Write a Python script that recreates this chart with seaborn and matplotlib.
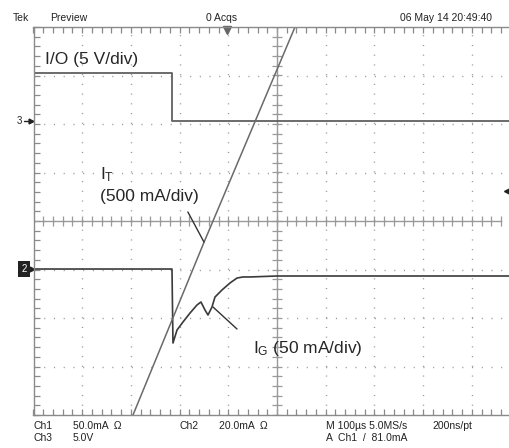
import numpy as np
import pandas as pd
import matplotlib
matplotlib.use("Agg")
import matplotlib.pyplot as plt
import seaborn as sns

# screen data: time in microseconds (100 us/div, 0 = screen centre)
t_io = [-500, -216, -216, 478]
v_io = [5, 5, 0, 0]                 # V, 5 V/div, ground marker "3"

t_ig = [-500, -215.6, -213.6, -205.3, -193.0, -178.6, -164.3, -156.1, -147.8,
        -141.7, -133.5, -127.3, -112.9, -96.5, -82.1, -69.8, -55.4, 0, 478]
i_ig = [0, 0, -76.3, -62.9, -54.6, -45.4, -37.1, -34.0, -42.3,
        -47.4, -39.2, -28.9, -21.6, -14.4, -9.3, -8.2, -8.2, -7.2, -7.2]   # mA, 50 mA/div

t_it = [-295.7, -149.9, 37, 45]
i_it = [-1.5, 0.28, 2.5, 2.6]       # A, 500 mA/div

T_DIV = 100.0
IO_DIV, IO_GND = 5.0, 2.06
IG_DIV, IG_GND = 50.0, -0.99
IT_DIV, IT_GND = 0.5, -1.0

sns.set_style("white")
plt.rcParams["font.family"] = ["Liberation Sans", "DejaVu Sans"]
plt.rcParams["mathtext.fontset"] = "custom"
plt.rcParams["mathtext.rm"] = "Liberation Sans"
plt.rcParams["mathtext.it"] = "Liberation Sans"

fig = plt.figure(figsize=(5.1, 4.48), dpi=100)
ax = fig.add_axes([33.5 / 510, 33 / 448, 1 - 33.5 / 510, 388 / 448])

io = pd.DataFrame({"x": np.array(t_io) / T_DIV, "y": np.array(v_io) / IO_DIV + IO_GND})
ig = pd.DataFrame({"x": np.array(t_ig) / T_DIV, "y": np.array(i_ig) / IG_DIV + IG_GND})
it = pd.DataFrame({"x": np.array(t_it) / T_DIV, "y": np.array(i_it) / IT_DIV + IT_GND})

# graticule
ax.set_xlim(-5, 4.785)
ax.set_ylim(-4, 4)
ax.set_xticks(np.arange(-5, 5, 1))
ax.set_yticks(np.arange(-4, 5, 1))
ax.set_xticks(np.arange(-5, 4.8, 0.2), minor=True)
ax.set_yticks(np.arange(-4, 4.01, 0.2), minor=True)
ax.tick_params(which="both", direction="in", length=4, width=0.9, color="#8a8a8a",
               top=True, bottom=True, left=True, right=False,
               labelbottom=False, labelleft=False)
ax.grid(which="major", linestyle=(0, (0.8, 6.2)), color="#9a9a9a", linewidth=1.0)
for side in ["left", "top", "bottom"]:
    ax.spines[side].set_color("#8a8a8a")
    ax.spines[side].set_linewidth(1.0)
ax.spines["right"].set_visible(False)

xs = np.arange(-5, 4.8, 0.2)
ys = np.arange(-4, 4.01, 0.2)
ax.plot(xs, np.zeros_like(xs), color="#9a9a9a", lw=1.0, marker="|", ms=7, mew=0.9, zorder=1)
ax.plot(np.zeros_like(ys), ys, color="#9a9a9a", lw=1.0, marker="_", ms=7, mew=0.9, zorder=1)

# traces
sns.lineplot(data=io, x="x", y="y", sort=False, estimator=None, color="#606060", lw=1.3, ax=ax)
sns.lineplot(data=ig, x="x", y="y", sort=False, estimator=None, color="#3a3a3a", lw=1.2, ax=ax)
sns.lineplot(data=it, x="x", y="y", sort=False, estimator=None, color="#6a6a6a", lw=1.1, ax=ax)
ax.set_xlabel("")
ax.set_ylabel("")

# annotations
ax.text(-4.76, 3.34, "I/O (5 V/div)", fontsize=12.5, va="center", ha="left")
ax.text(-3.63, 0.95, r"I$_\mathrm{T}$", fontsize=12.5, va="center", ha="left")
ax.text(-3.63, 0.515, "(500 mA/div)", fontsize=12.5, va="center", ha="left")
ax.text(-0.49, -2.62, r"I$_\mathrm{G}$ (50 mA/div)", fontsize=12.5, va="center", ha="left")
ax.plot([-1.83, -1.50], [0.186, -0.433], color="#333333", lw=1.0)
ax.plot([-1.314, -0.821], [-1.773, -2.227], color="#333333", lw=1.0)

# scope markers
ax.text(-5.29, IO_GND, "3", fontsize=7, va="center", ha="center", clip_on=False)
ax.plot([-5.19, -5.03], [IO_GND, IO_GND], color="#222222", lw=1.0, clip_on=False)
ax.plot(-5.06, IO_GND, marker=">", ms=3.5, color="#222222", clip_on=False)
ax.text(-5.2, IG_GND, "2", fontsize=7, color="white", va="center", ha="center", clip_on=False,
        bbox=dict(boxstyle="square,pad=0.35", fc="#222222", ec="none"))
ax.plot([-5.06, -5.0], [IG_GND, IG_GND], color="#222222", lw=1.0, clip_on=False)
ax.plot(-5.04, IG_GND, marker=">", ms=3.5, color="#222222", clip_on=False)
ax.plot(4.72, 0.62, marker="<", ms=4, color="#222222", clip_on=False)
ax.plot(-1.03, 3.94, marker="v", ms=6, color="#666666", clip_on=False)

# header and footer
hdr = dict(fontsize=7.5, color="#222222", va="center", ha="left")
fig.text(13 / 510, 1 - 18 / 448, "Tek", **hdr)
fig.text(50 / 510, 1 - 18 / 448, "Preview", **hdr)
fig.text(206 / 510, 1 - 18 / 448, "0 Acqs", **hdr)
fig.text(400 / 510, 1 - 18 / 448, "06 May 14 20:49:40", **hdr)

r1, r2 = 1 - 426 / 448, 1 - 438 / 448
fig.text(34 / 510, r1, "Ch1", **hdr)
fig.text(73 / 510, r1, "50.0mA  Ω", **hdr)
fig.text(180 / 510, r1, "Ch2", **hdr)
fig.text(219 / 510, r1, "20.0mA  Ω", **hdr)
fig.text(326 / 510, r1, "M 100µs 5.0MS/s", **hdr)
fig.text(432 / 510, r1, "200ns/pt", **hdr)
fig.text(34 / 510, r2, "Ch3", **hdr)
fig.text(73 / 510, r2, "5.0V", **hdr)
fig.text(326 / 510, r2, "A  Ch1  /  81.0mA", **hdr)

fig.savefig("out.png", dpi=100)
